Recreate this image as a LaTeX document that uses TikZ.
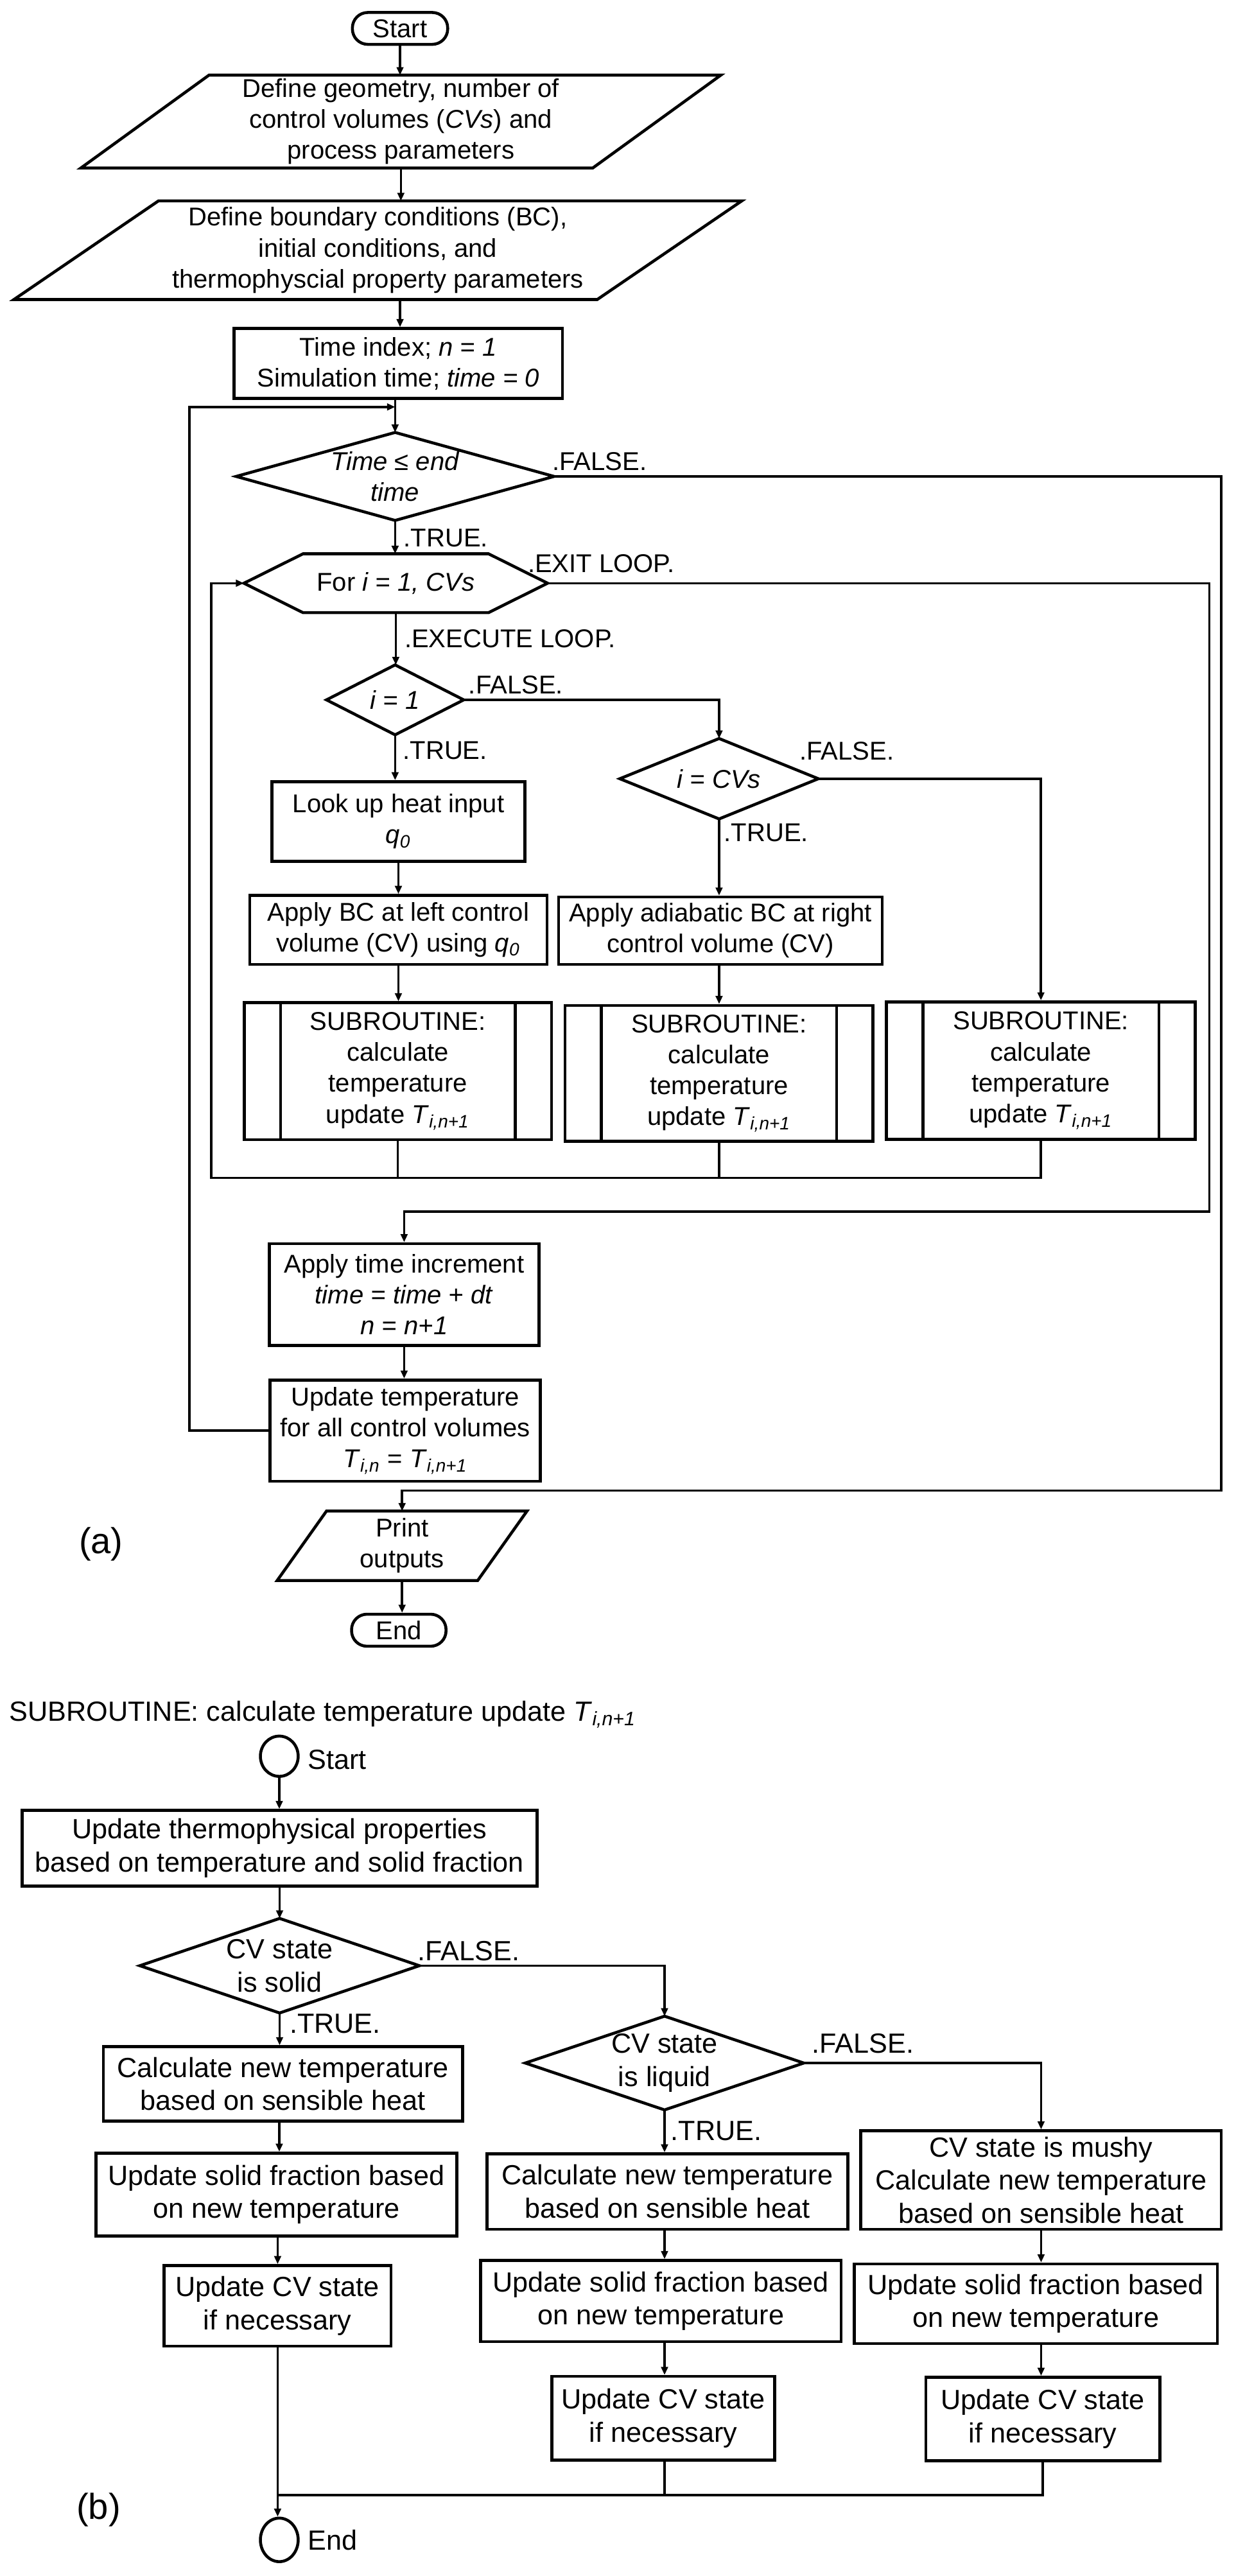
\documentclass[tikz,border=0pt]{standalone}
\usepackage{fontspec}
\setmainfont{Liberation Sans}
\usetikzlibrary{arrows.meta,shapes.geometric,calc}
\newcommand{\pxu}{0.0256cm}
\newcommand{\fsa}{\fontsize{11.4}{13.7}\selectfont}
\newcommand{\fsb}{\fontsize{12.3}{14.7}\selectfont}
\newcommand{\fsc}{\fontsize{16}{19}\selectfont}
\newcommand{\Tsub}[1]{\textit{T}\textsubscript{\textit{#1}}}
\newcommand{\qz}{\textit{q}\textsubscript{\textit{0}}}
\tikzset{
  base/.style={inner sep=0pt, align=center, font=\fsa},
  baseb/.style={inner sep=0pt, align=center, font=\fsb},
  sz/.style 2 args={minimum width=#1*\pxu, minimum height=#2*\pxu},
  box/.style={base, draw, rectangle, line width=1.3pt},
  boxb/.style={baseb, draw, rectangle, line width=1.3pt},
  shapeline/.style={line width=1.3pt},
  conn/.style={line width=1pt},
  arr/.style={conn, -{Triangle[length=1.25mm,width=1.05mm]}},
  lbl/.style={inner sep=0pt, anchor=west, font=\fsa},
  lblb/.style={inner sep=0pt, anchor=west, font=\fsb},
  termbox/.style={box, rounded corners=0.24cm},
  oval/.style={ellipse, draw, line width=1.3pt, inner sep=0pt},
}
\begin{document}
\begin{tikzpicture}[x=0.0256cm, y=-0.0256cm]
\useasboundingbox (0,0) rectangle (752,1568);
\fill[white] (0,0) rectangle (752,1568);

% ---------------- (a) ----------------
\node[termbox, sz={58}{19.4}] (start) at (243.5,17.3) {Start};

\node[base, sz={311}{56}] (p1) at (244,74) {Define geometry, number of\\control volumes (\textit{CVs}) and\\process parameters};
\draw[shapeline] ([xshift=39*\pxu]p1.north west) -- ([xshift=39*\pxu]p1.north east) -- ([xshift=-39*\pxu]p1.south east) -- ([xshift=-39*\pxu]p1.south west) -- cycle;

\node[base, sz={354.5}{59.5}] (p2) at (230,152.3) {Define boundary conditions (BC),\\initial conditions, and\\thermophyscial property parameters};
\draw[shapeline] ([xshift=44*\pxu]p2.north west) -- ([xshift=44*\pxu]p2.north east) -- ([xshift=-44*\pxu]p2.south east) -- ([xshift=-44*\pxu]p2.south west) -- cycle;

\node[box, sz={200}{42.6}] (tidx) at (242.4,221.3) {Time index; \textit{n = 1}\\Simulation time; \textit{time = 0}};

\node[base, sz={193}{53}] (d1) at (240.5,290) {\textit{Time ≤ end}\\\textit{time}};
\draw[shapeline] (d1.north) -- (d1.east) -- (d1.south) -- (d1.west) -- cycle;

\node[base, sz={184.3}{35.3}] (hex) at (240.9,355) {For \textit{i = 1, CVs}};
\draw[shapeline] (hex.west) -- ([xshift=36*\pxu]hex.north west) -- ([xshift=-36*\pxu]hex.north east) -- (hex.east) -- ([xshift=-36*\pxu]hex.south east) -- ([xshift=36*\pxu]hex.south west) -- cycle;

\node[base, sz={83}{42}] (d2) at (240.5,426) {\textit{i = 1}};
\draw[shapeline] (d2.north) -- (d2.east) -- (d2.south) -- (d2.west) -- cycle;

\node[base, sz={120.3}{48.4}] (d3) at (437.7,474) {\textit{i = CVs}};
\draw[shapeline] (d3.north) -- (d3.east) -- (d3.south) -- (d3.west) -- cycle;

\node[box, sz={154}{48.4}] (look) at (242.5,500) {Look up heat input\\\qz};
\node[box, sz={181}{42}] (appL) at (242.5,566) {Apply BC at left control\\volume (CV) using \qz};
\node[box, sz={197}{41}] (appR) at (438.5,566.5) {Apply adiabatic BC at right\\control volume (CV)};

\node[box, sz={187}{83.3}] (s1) at (242.2,652) {SUBROUTINE:\\calculate\\temperature\\update \Tsub{i,n+1}};
\node[box, sz={187.4}{82.6}] (s2) at (437.7,653.3) {SUBROUTINE:\\calculate\\temperature\\update \Tsub{i,n+1}};
\node[box, sz={188}{83.8}] (s3) at (633.6,651.7) {SUBROUTINE:\\calculate\\temperature\\update \Tsub{i,n+1}};
\foreach \s in {s1,s2,s3}{
  \draw[shapeline] ([xshift=23*\pxu]\s.north west) -- ([xshift=23*\pxu]\s.south west);
  \draw[shapeline] ([xshift=-23*\pxu]\s.north east) -- ([xshift=-23*\pxu]\s.south east);
}

\node[box, sz={164}{62}] (tinc) at (246,788) {Apply time increment\\\textit{time = time + dt}\\\textit{n = n+1}};
\node[box, sz={164.5}{61.6}] (updT) at (246.7,870.8) {Update temperature\\for all control volumes\\\Tsub{i,n} = \Tsub{i,n+1}};

\node[base, sz={121.5}{41.7}] (print) at (244.75,940.9) {Print\\outputs};
\draw[shapeline] ([xshift=15*\pxu]print.north west) -- ([xshift=15*\pxu]print.north east) -- ([xshift=-15*\pxu]print.south east) -- ([xshift=-15*\pxu]print.south west) -- cycle;

\node[termbox, sz={57.5}{19.5}] (endA) at (242.75,992.3) {End};

\node[inner sep=0pt, font=\fsc] (lbla) at (61.5,940) {(a)};

% connectors (a)
\coordinate (jn1) at (240.5,247.7);
\coordinate (jb) at (128.5,717);
\draw[arr] (start.south) -- (start.south |- p1.north);
\draw[arr] (p1.south) -- (p1.south |- p2.north);
\draw[arr] (p2.south -| start.south) -- (start.south |- tidx.north);
\draw[arr] (tidx.south -| d1.north) -- (d1.north);
\draw[arr] (updT.west) -- ++(-48.2,0) |- (jn1);
\draw[arr] (d1.south) -- (d1.south |- hex.north);
\draw[arr] (d1.east) -| (743.4,907.3) -| (print.north);
\draw[arr] (hex.south) -- (hex.south |- d2.north);
\draw[arr] (hex.east) -| (736.2,737.4) -| (tinc.north);
\draw[arr] (s3.south) |- (jb) |- (hex.west);
\draw[conn] (s1.south) -- (s1.south |- jb);
\draw[conn] (s2.south) -- (s2.south |- jb);
\draw[arr] (d2.south) -- (d2.south |- look.north);
\draw[arr] (d2.east) -| (d3.north);
\draw[arr] (d3.south) -- (d3.south |- appR.north);
\draw[arr] (d3.east) -| (s3.north);
\draw[arr] (look.south) -- (look.south |- appL.north);
\draw[arr] (appL.south) -- (appL.south |- s1.north);
\draw[arr] (appR.south -| d3.south) -- (d3.south |- s2.north);
\draw[arr] (tinc.south) -- (tinc.south |- updT.north);
\draw[arr] (print.south) -- (print.south |- endA.north);

% labels (a)
\node[lbl] (lf1) at (336,281) {.FALSE.};
\node[lbl] (lt1) at (245.5,327.5) {.TRUE.};
\node[lbl] (lex) at (321,343) {.EXIT LOOP.};
\node[lbl] (lel) at (246,388.7) {.EXECUTE LOOP.};
\node[lbl] (lf2) at (285,417) {.FALSE.};
\node[lbl] (lt2) at (245,457) {.TRUE.};
\node[lbl] (lf3) at (486.5,457) {.FALSE.};
\node[lbl] (lt3) at (440.5,507) {.TRUE.};

% ---------------- (b) ----------------
\node[inner sep=0pt, anchor=west, font=\fsb] (title) at (5.5,1043.5) {SUBROUTINE: calculate temperature update \Tsub{i,n+1}};

\node[oval, minimum width=23*\pxu, minimum height=24.5*\pxu, label={[font=\fsb, inner sep=0pt, label distance=1.2mm, yshift=-0.5mm]right:Start}] (sb) at (170,1069) {};

\node[boxb, sz={313.6}{46}] (tp) at (170.2,1125) {Update thermophysical properties\\based on temperature and solid fraction};

\node[baseb, sz={169.6}{57}] (dS) at (170.2,1196.5) {CV state\\is solid};
\draw[shapeline] (dS.north) -- (dS.east) -- (dS.south) -- (dS.west) -- cycle;

\node[baseb, sz={169}{56.5}] (dL) at (404.5,1255.75) {CV state\\is liquid};
\draw[shapeline] (dL.north) -- (dL.east) -- (dL.south) -- (dL.west) -- cycle;

\node[boxb, sz={218.5}{45.2}] (L1) at (172.25,1268.4) {Calculate new temperature\\based on sensible heat};
\node[boxb, sz={219.5}{50.4}] (L2) at (168.25,1335.8) {Update solid fraction based\\on new temperature};
\node[boxb, sz={138.2}{49}] (L3) at (168.9,1403.5) {Update CV state\\if necessary};

\node[boxb, sz={219.6}{46}] (M1) at (406.2,1334) {Calculate new temperature\\based on sensible heat};
\node[boxb, sz={219.4}{49.3}] (M2) at (402.3,1400.6) {Update solid fraction based\\on new temperature};
\node[boxb, sz={135.5}{51}] (M3) at (403.75,1472) {Update CV state\\if necessary};

\node[boxb, sz={219.4}{60}] (R1) at (633.7,1327) {CV state is mushy\\Calculate new temperature\\based on sensible heat};
\node[boxb, sz={221}{48.5}] (R2) at (630.5,1402.25) {Update solid fraction based\\on new temperature};
\node[boxb, sz={142.5}{50.8}] (R3) at (634.75,1472.4) {Update CV state\\if necessary};

\node[oval, minimum width=23*\pxu, minimum height=26.5*\pxu, label={[font=\fsb, inner sep=0pt, label distance=1.2mm]right:End}] (eb) at (170,1546) {};

\node[inner sep=0pt, font=\fsc] (lblb) at (60,1527.6) {(b)};

% connectors (b)
\coordinate (jB) at (169,1518.7);
\draw[arr] (sb.south) -- (sb.south |- tp.north);
\draw[arr] (tp.south) -- (tp.south |- dS.north);
\draw[arr] (dS.south) -- (dS.south |- L1.north);
\draw[arr] (dS.east) -| (dL.north);
\draw[arr] (dL.south) -- (dL.south |- M1.north);
\draw[arr] (dL.east) -| (R1.north);
\draw[arr] (L1.south -| sb.south) -- (sb.south |- L2.north);
\draw[arr] (L2.south -| jB) -- (jB |- L3.north);
\draw[arr] (L3.south -| jB) -- (jB |- eb.north);
\draw[arr] (M1.south -| dL.south) -- (dL.south |- M2.north);
\draw[arr] (M2.south -| dL.south) -- (dL.south |- M3.north);
\draw[arr] (R1.south) -- (R1.south |- R2.north);
\draw[arr] (R2.south -| R1.south) -- (R1.south |- R3.north);
\draw[conn] (M3.south -| dL.south) -- (dL.south |- jB);
\draw[conn] (R3.south) |- (jB);

% labels (b)
\node[lblb] (bf1) at (254,1187.4) {.FALSE.};
\node[lblb] (bt1) at (176,1232) {.TRUE.};
\node[lblb] (bf2) at (494,1244) {.FALSE.};
\node[lblb] (bt2) at (408,1297) {.TRUE.};
\end{tikzpicture}
\end{document}
